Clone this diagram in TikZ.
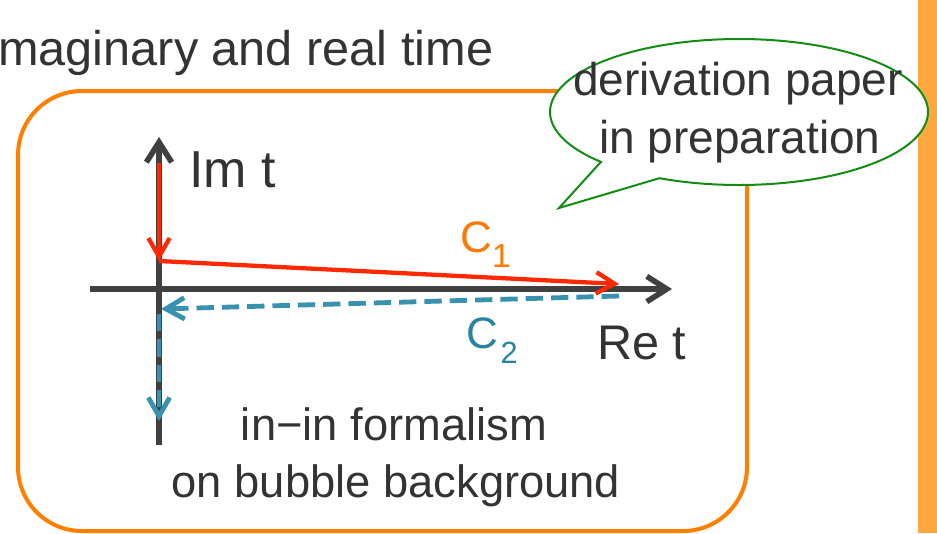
\documentclass[tikz,border=0pt]{standalone}
\usepackage{fontspec}
\setmainfont{Liberation Sans}
\usetikzlibrary{arrows.meta,shapes.callouts}
\definecolor{boxorange}{RGB}{255,127,0}
\definecolor{barorange}{RGB}{255,168,64}
\definecolor{bubblegreen}{RGB}{20,140,20}
\definecolor{axisgray}{RGB}{64,64,64}
\definecolor{txtgray}{RGB}{51,51,51}
\definecolor{cred}{RGB}{255,40,0}
\definecolor{corange}{RGB}{255,120,0}
\definecolor{cblue}{RGB}{55,145,175}
\definecolor{cbluetxt}{RGB}{40,130,160}
\begin{document}
\begin{tikzpicture}[x=0.75pt,y=-0.75pt,
  txt/.style={text=txtgray, inner sep=0pt, anchor=base},
  axisline/.style={draw=axisgray, line width=4.2pt, -{Straight Barb[length=15pt,width=19pt]}},
  redpath/.style={draw=cred, line width=3.2pt, -{Straight Barb[length=14pt,width=16pt]}},
  bluepath/.style={draw=cblue, line width=3.6pt, dash pattern=on 13pt off 6pt, -{Straight Barb[length=14pt,width=16pt]}}
]
\useasboundingbox (0,0) rectangle (937,533);
% right bar
\fill[barorange] (918,0) rectangle (937,533);
% title
\node[txt, anchor=base west, font=\fontsize{36.5}{40}\selectfont] (title) at (-2,65) {maginary and real time};
% orange box
\draw[boxorange, line width=3pt, rounded corners=48pt] (18,91) rectangle (747,531);
% speech bubble
\node[ellipse callout, draw=bubblegreen, fill=white, line width=1.5pt,
      minimum width=283.5pt, minimum height=109.5pt, inner sep=0pt,
      callout absolute pointer={(559,208)}, callout pointer arc=22] (bubble) at (739,112) {};
\node[txt, font=\fontsize{34.5}{40}\selectfont] (bubbleA) at (738,95) {derivation paper};
\node[txt, font=\fontsize{34.5}{40}\selectfont] (bubbleB) at (740,153) {in preparation};
% axes
\coordinate (xl) at (90,289);
\coordinate (xr) at (672,289);
\coordinate (yb) at (159,445);
\coordinate (yt) at (159,137);
\draw[axisline] (xl) -- (xr);
\draw[axisline] (yb) -- (yt);
% contour C1
\coordinate (r0) at (159,163);
\coordinate (r1) at (159,261);
\coordinate (r2) at (619,284);
\draw[redpath] (r0) -- (r1);
\draw[redpath] (r1) -- (r2);
% contour C2
\coordinate (b0) at (619,296);
\coordinate (b1) at (161,309);
\coordinate (b2) at (159,314);
\coordinate (b3) at (159,421);
\draw[bluepath] (b0) -- (b1);
\draw[bluepath] (b2) -- (b3);
% labels
\node[txt, anchor=base west, font=\fontsize{39}{42}\selectfont] (imt) at (189,187) {Im t};
\node[txt, anchor=base west, font=\fontsize{36.5}{40}\selectfont] (ret) at (597,359) {Re t};
\node[txt, anchor=base west, text=corange, font=\fontsize{33}{36}\selectfont] (c1) at (460,252) {C\raisebox{-11.25pt}{\fontsize{25}{28}\selectfont 1}};
\node[txt, anchor=base west, text=cbluetxt, font=\fontsize{33}{36}\selectfont] (c2) at (466,348) {C\kern2pt\raisebox{-11.25pt}{\fontsize{23}{26}\selectfont 2}};
\node[txt, font=\fontsize{34}{40}\selectfont] (formA) at (394,440) {in−in formalism};
\node[txt, font=\fontsize{34}{40}\selectfont] (formB) at (396,497) {on bubble background};
\end{tikzpicture}
\end{document}
